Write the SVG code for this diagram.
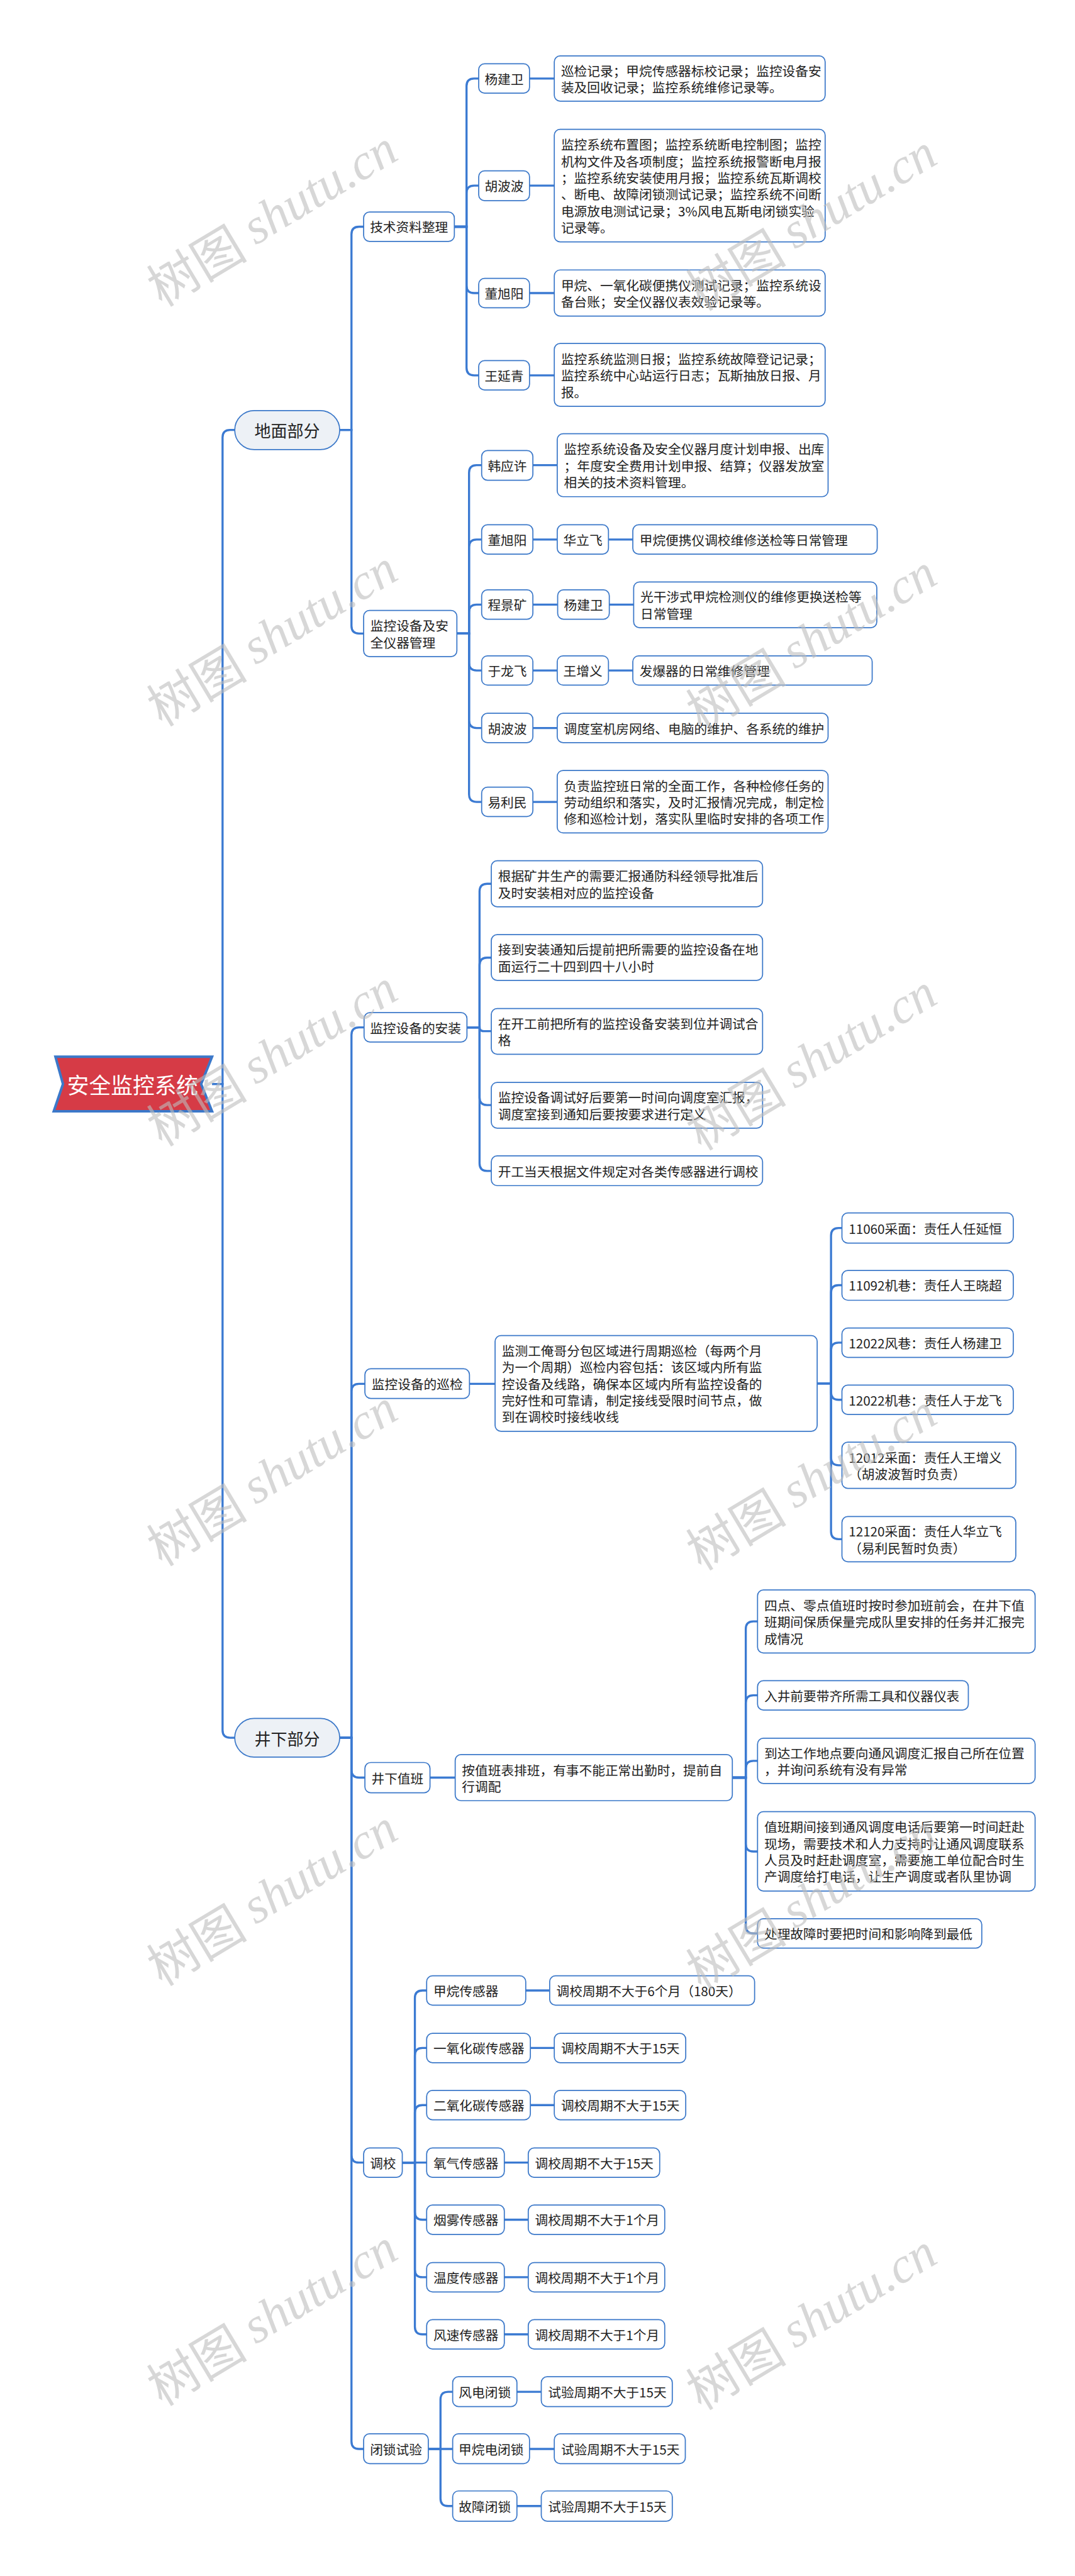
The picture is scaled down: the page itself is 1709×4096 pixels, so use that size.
<svg xmlns="http://www.w3.org/2000/svg" width="1709" height="4096" viewBox="0 0 1709 4096">
<style>
.bg{fill:#fff}
.n{fill:#fff;stroke:#3b78c9;stroke-width:2.6}
.l1{fill:#edf1f6;stroke:#3b78c9;stroke-width:2.6}
.t{font-family:"Noto Sans CJK SC","Microsoft YaHei",sans-serif;font-size:31px;fill:#222;dominant-baseline:central}
.c{text-anchor:middle}
.big{font-size:39px}
.e{fill:none;stroke:#3b7ad2;stroke-width:5}
.wm{font-family:"Noto Sans CJK SC",sans-serif;font-size:120px;fill:#bdbdbd;opacity:0.6;text-anchor:middle;dominant-baseline:central}
.wm tspan.s{font-family:"Liberation Serif",serif;font-style:italic}
</style>
<rect class="bg" width="1709" height="4096"/>
<g transform="scale(0.66758)">
<g id="connectors">
<path class="e" d="M505 2582H530V1042Q530 1024 548 1024H559"/>
<path class="e" d="M505 2582H530V4121Q530 4139 548 4139H559"/>
<path class="e" d="M809 1024H837V558Q837 540 855 540H866"/>
<path class="e" d="M809 1024H837V1491Q837 1509 855 1509H866"/>
<path class="e" d="M1082 540H1111V205Q1111 187 1129 187H1140"/>
<path class="e" d="M1082 540H1111V460Q1111 442 1129 442H1140"/>
<path class="e" d="M1082 540H1111V680Q1111 698 1129 698H1140"/>
<path class="e" d="M1082 540H1111V876Q1111 894 1129 894H1140"/>
<path class="e" d="M1261 187H1320M1261 442H1320M1261 698H1320M1261 894H1320"/>
<path class="e" d="M1088 1509H1117V1126Q1117 1108 1135 1108H1147"/>
<path class="e" d="M1088 1509H1117V1303Q1117 1285 1135 1285H1147"/>
<path class="e" d="M1088 1509H1117V1458Q1117 1440 1135 1440H1147"/>
<path class="e" d="M1088 1509H1117V1579Q1117 1597 1135 1597H1147"/>
<path class="e" d="M1088 1509H1117V1716Q1117 1734 1135 1734H1147"/>
<path class="e" d="M1088 1509H1117V1892Q1117 1910 1135 1910H1147"/>
<path class="e" d="M1269 1108H1327M1269 1285H1327M1449 1285H1507M1269 1440H1327M1449 1440H1509M1269 1597H1327M1449 1597H1507M1269 1734H1327M1269 1910H1327"/>
<path class="e" d="M809 4139H837V2465Q837 2447 855 2447H867"/>
<path class="e" d="M809 4139H837V3314Q837 3296 855 3296H869"/>
<path class="e" d="M809 4139H837V4216Q837 4234 855 4234H869"/>
<path class="e" d="M809 4139H837V5133Q837 5151 855 5151H866"/>
<path class="e" d="M809 4139H837V5815Q837 5833 855 5833H866"/>
<path class="e" d="M1112 2447H1142V2123Q1142 2105 1160 2105H1170"/>
<path class="e" d="M1112 2447H1142V2299Q1142 2281 1160 2281H1170"/>
<path class="e" d="M1112 2447H1142Q1142 2456 1152 2456H1170"/>
<path class="e" d="M1112 2447H1142V2614Q1142 2632 1160 2632H1170"/>
<path class="e" d="M1112 2447H1142V2771Q1142 2789 1160 2789H1170"/>
<path class="e" d="M1118 3296H1179"/>
<path class="e" d="M1946 3295H1979V2943Q1979 2925 1997 2925H2005"/>
<path class="e" d="M1946 3295H1979V3079Q1979 3061 1997 3061H2005"/>
<path class="e" d="M1946 3295H1979V3216Q1979 3198 1997 3198H2005"/>
<path class="e" d="M1946 3295H1979V3316Q1979 3334 1997 3334H2005"/>
<path class="e" d="M1946 3295H1979V3472Q1979 3490 1997 3490H2005"/>
<path class="e" d="M1946 3295H1979V3648Q1979 3666 1997 3666H2005"/>
<path class="e" d="M1024 4234H1084"/>
<path class="e" d="M1744 4234H1776V3880Q1776 3862 1794 3862H1804"/>
<path class="e" d="M1744 4234H1776V4056Q1776 4038 1794 4038H1804"/>
<path class="e" d="M1744 4234H1776V4212Q1776 4194 1794 4194H1804"/>
<path class="e" d="M1744 4234H1776V4392Q1776 4410 1794 4410H1804"/>
<path class="e" d="M1744 4234H1776V4587Q1776 4605 1794 4605H1804"/>
<path class="e" d="M958 5151H988V4759Q988 4741 1006 4741H1016"/>
<path class="e" d="M958 5151H988V4896Q988 4878 1006 4878H1016"/>
<path class="e" d="M958 5151H988V5032Q988 5014 1006 5014H1016"/>
<path class="e" d="M958 5151H1016"/>
<path class="e" d="M958 5151H988V5269Q988 5287 1006 5287H1016"/>
<path class="e" d="M958 5151H988V5406Q988 5424 1006 5424H1016"/>
<path class="e" d="M958 5151H988V5542Q988 5560 1006 5560H1016"/>
<path class="e" d="M1252 4741H1309M1263 4878H1320M1263 5014H1320M1201 5151H1258M1201 5287H1258M1201 5424H1258M1201 5560H1258"/>
<path class="e" d="M1020 5833H1049V5715Q1049 5697 1067 5697H1078"/>
<path class="e" d="M1020 5833H1078"/>
<path class="e" d="M1020 5833H1049V5951Q1049 5969 1067 5969H1078"/>
<path class="e" d="M1231 5697H1289M1261 5833H1320M1231 5969H1289"/>
</g>

<g id="root">
<polygon points="132,2517 505,2517 479,2582 505,2647 128,2647 150,2582" fill="#d63b46" stroke="#3b78c9" stroke-width="6"/>
<text class="t c" x="316" y="2582" style="font-size:52px;fill:#fff">安全监控系统</text>
</g>

<g id="n-dimian"><rect class="l1" x="559" y="978" width="250" height="93" rx="46.5"/><text class="t c big" x="684" y="1024">地面部分</text></g>
<g id="n-jingxia"><rect class="l1" x="559" y="4093" width="250" height="92" rx="46"/><text class="t c big" x="684" y="4139">井下部分</text></g>

<g id="n-jszl"><rect class="n" x="866" y="505" width="216" height="70" rx="14"/><text class="t c" x="974" y="540">技术资料整理</text></g>
<g id="n-jszl-1"><rect class="n" x="1140" y="152" width="121" height="70" rx="14"/><text class="t c" x="1200.5" y="187">杨建卫</text></g>
<g id="n-jszl-1c"><rect class="n" x="1320" y="133" width="645" height="108" rx="14"/><text class="t" x="1336" y="167.5">巡检记录；甲烷传感器标校记录；监控设备安</text><text class="t" x="1336" y="207">装及回收记录；监控系统维修记录等。</text></g>
<g id="n-jszl-2"><rect class="n" x="1140" y="407" width="121" height="71" rx="14"/><text class="t c" x="1200.5" y="442">胡波波</text></g>
<g id="n-jszl-2c"><rect class="n" x="1320" y="308" width="645" height="268" rx="14"/>
<text class="t" x="1336" y="343.5">监控系统布置图；监控系统断电控制图；监控</text>
<text class="t" x="1336" y="383">机构文件及各项制度；监控系统报警断电月报</text>
<text class="t" x="1336" y="422.5">；监控系统安装使用月报；监控系统瓦斯调校</text>
<text class="t" x="1336" y="462">、断电、故障闭锁测试记录；监控系统不间断</text>
<text class="t" x="1336" y="501.5">电源放电测试记录；3%风电瓦斯电闭锁实验</text>
<text class="t" x="1336" y="541">记录等。</text></g>
<g id="n-jszl-3"><rect class="n" x="1140" y="663" width="121" height="70" rx="14"/><text class="t c" x="1200.5" y="698">董旭阳</text></g>
<g id="n-jszl-3c"><rect class="n" x="1320" y="643" width="645" height="110" rx="14"/><text class="t" x="1336" y="678.5">甲烷、一氧化碳便携仪测试记录；监控系统设</text><text class="t" x="1336" y="718">备台账；安全仪器仪表效验记录等。</text></g>
<g id="n-jszl-4"><rect class="n" x="1140" y="859" width="121" height="70" rx="14"/><text class="t c" x="1200.5" y="894">王延青</text></g>
<g id="n-jszl-4c"><rect class="n" x="1320" y="818" width="645" height="150" rx="14"/>
<text class="t" x="1336" y="854">监控系统监测日报；监控系统故障登记记录；</text>
<text class="t" x="1336" y="893.5">监控系统中心站运行日志；瓦斯抽放日报、月</text>
<text class="t" x="1336" y="933">报。</text></g>

<g id="n-jkgl"><rect class="n" x="866" y="1454" width="222" height="110" rx="14"/><text class="t" x="882" y="1489.5">监控设备及安</text><text class="t" x="882" y="1529">全仪器管理</text></g>
<g id="n-jkgl-1"><rect class="n" x="1147" y="1073" width="122" height="71" rx="14"/><text class="t c" x="1208" y="1108">韩应许</text></g>
<g id="n-jkgl-1c"><rect class="n" x="1327" y="1033" width="645" height="150" rx="14"/>
<text class="t" x="1343" y="1068.5">监控系统设备及安全仪器月度计划申报、出库</text>
<text class="t" x="1343" y="1108">；年度安全费用计划申报、结算；仪器发放室</text>
<text class="t" x="1343" y="1147.5">相关的技术资料管理。</text></g>
<g id="n-jkgl-2"><rect class="n" x="1147" y="1250" width="122" height="70" rx="14"/><text class="t c" x="1208" y="1285">董旭阳</text></g>
<g id="n-jkgl-2a"><rect class="n" x="1327" y="1250" width="122" height="70" rx="14"/><text class="t c" x="1388" y="1285">华立飞</text></g>
<g id="n-jkgl-2c"><rect class="n" x="1507" y="1250" width="582" height="70" rx="14"/><text class="t" x="1523" y="1285">甲烷便携仪调校维修送检等日常管理</text></g>
<g id="n-jkgl-3"><rect class="n" x="1147" y="1405" width="122" height="70" rx="14"/><text class="t c" x="1208" y="1440">程景矿</text></g>
<g id="n-jkgl-3a"><rect class="n" x="1328" y="1405" width="123" height="70" rx="14"/><text class="t c" x="1389.5" y="1440">杨建卫</text></g>
<g id="n-jkgl-3c"><rect class="n" x="1509" y="1386" width="579" height="109" rx="14"/><text class="t" x="1525" y="1420.5">光干涉式甲烷检测仪的维修更换送检等</text><text class="t" x="1525" y="1460">日常管理</text></g>
<g id="n-jkgl-4"><rect class="n" x="1147" y="1562" width="122" height="70" rx="14"/><text class="t c" x="1208" y="1597">于龙飞</text></g>
<g id="n-jkgl-4a"><rect class="n" x="1327" y="1562" width="122" height="70" rx="14"/><text class="t c" x="1388" y="1597">王增义</text></g>
<g id="n-jkgl-4c"><rect class="n" x="1507" y="1562" width="570" height="70" rx="14"/><text class="t" x="1523" y="1597">发爆器的日常维修管理</text></g>
<g id="n-jkgl-5"><rect class="n" x="1147" y="1699" width="122" height="70" rx="14"/><text class="t c" x="1208" y="1734">胡波波</text></g>
<g id="n-jkgl-5c"><rect class="n" x="1327" y="1699" width="645" height="70" rx="14"/><text class="t" x="1343" y="1734">调度室机房网络、电脑的维护、各系统的维护</text></g>
<g id="n-jkgl-6"><rect class="n" x="1147" y="1875" width="122" height="70" rx="14"/><text class="t c" x="1208" y="1910">易利民</text></g>
<g id="n-jkgl-6c"><rect class="n" x="1327" y="1835" width="645" height="149" rx="14"/>
<text class="t" x="1343" y="1870.5">负责监控班日常的全面工作，各种检修任务的</text>
<text class="t" x="1343" y="1910">劳动组织和落实，及时汇报情况完成，制定检</text>
<text class="t" x="1343" y="1949.5">修和巡检计划，落实队里临时安排的各项工作</text></g>

<g id="n-az"><rect class="n" x="867" y="2412" width="245" height="70" rx="14"/><text class="t c" x="989.5" y="2447">监控设备的安装</text></g>
<g id="n-az-1"><rect class="n" x="1170" y="2050" width="646" height="110" rx="14"/><text class="t" x="1186" y="2085.5">根据矿井生产的需要汇报通防科经领导批准后</text><text class="t" x="1186" y="2125">及时安装相对应的监控设备</text></g>
<g id="n-az-2"><rect class="n" x="1170" y="2226" width="646" height="109" rx="14"/><text class="t" x="1186" y="2261">接到安装通知后提前把所需要的监控设备在地</text><text class="t" x="1186" y="2300.5">面运行二十四到四十八小时</text></g>
<g id="n-az-3"><rect class="n" x="1170" y="2402" width="646" height="109" rx="14"/><text class="t" x="1186" y="2437">在开工前把所有的监控设备安装到位并调试合</text><text class="t" x="1186" y="2476.5">格</text></g>
<g id="n-az-4"><rect class="n" x="1170" y="2578" width="646" height="109" rx="14"/><text class="t" x="1186" y="2613">监控设备调试好后要第一时间向调度室汇报，</text><text class="t" x="1186" y="2652.5">调度室接到通知后要按要求进行定义</text></g>
<g id="n-az-5"><rect class="n" x="1170" y="2753" width="646" height="71" rx="14"/><text class="t" x="1186" y="2789">开工当天根据文件规定对各类传感器进行调校</text></g>

<g id="n-xj"><rect class="n" x="869" y="3260" width="249" height="71" rx="14"/><text class="t c" x="993.5" y="3296">监控设备的巡检</text></g>
<g id="n-xj-c"><rect class="n" x="1179" y="3181" width="767" height="228" rx="14"/>
<text class="t" x="1195" y="3216">监测工俺哥分包区域进行周期巡检（每两个月</text>
<text class="t" x="1195" y="3255.5">为一个周期）巡检内容包括：该区域内所有监</text>
<text class="t" x="1195" y="3295">控设备及线路，确保本区域内所有监控设备的</text>
<text class="t" x="1195" y="3334.5">完好性和可靠请，制定接线受限时间节点，做</text>
<text class="t" x="1195" y="3374">到在调校时接线收线</text></g>
<g id="n-xj-1"><rect class="n" x="2005" y="2889" width="408" height="72" rx="14"/><text class="t" x="2021" y="2925">11060采面：责任人任延恒</text></g>
<g id="n-xj-2"><rect class="n" x="2005" y="3026" width="408" height="71" rx="14"/><text class="t" x="2021" y="3061">11092机巷：责任人王晓超</text></g>
<g id="n-xj-3"><rect class="n" x="2005" y="3163" width="408" height="70" rx="14"/><text class="t" x="2021" y="3198">12022风巷：责任人杨建卫</text></g>
<g id="n-xj-4"><rect class="n" x="2005" y="3299" width="408" height="70" rx="14"/><text class="t" x="2021" y="3334">12022机巷：责任人于龙飞</text></g>
<g id="n-xj-5"><rect class="n" x="2005" y="3435" width="414" height="110" rx="14"/><text class="t" x="2021" y="3470.5">12012采面：责任人王增义</text><text class="t" x="2021" y="3510">（胡波波暂时负责）</text></g>
<g id="n-xj-6"><rect class="n" x="2005" y="3612" width="414" height="108" rx="14"/><text class="t" x="2021" y="3646.5">12120采面：责任人华立飞</text><text class="t" x="2021" y="3686">（易利民暂时负责）</text></g>

<g id="n-zb"><rect class="n" x="869" y="4198" width="155" height="72" rx="14"/><text class="t c" x="946.5" y="4234">井下值班</text></g>
<g id="n-zb-c"><rect class="n" x="1084" y="4179" width="660" height="110" rx="14"/><text class="t" x="1100" y="4214.5">按值班表排班，有事不能正常出勤时，提前自</text><text class="t" x="1100" y="4254">行调配</text></g>
<g id="n-zb-1"><rect class="n" x="1804" y="3787" width="661" height="150" rx="14"/>
<text class="t" x="1820" y="3822.5">四点、零点值班时按时参加班前会，在井下值</text>
<text class="t" x="1820" y="3862">班期间保质保量完成队里安排的任务并汇报完</text>
<text class="t" x="1820" y="3901.5">成情况</text></g>
<g id="n-zb-2"><rect class="n" x="1804" y="4003" width="502" height="70" rx="14"/><text class="t" x="1820" y="4038">入井前要带齐所需工具和仪器仪表</text></g>
<g id="n-zb-3"><rect class="n" x="1804" y="4140" width="661" height="108" rx="14"/><text class="t" x="1820" y="4174.5">到达工作地点要向通风调度汇报自己所在位置</text><text class="t" x="1820" y="4214">，并询问系统有没有异常</text></g>
<g id="n-zb-4"><rect class="n" x="1804" y="4315" width="661" height="189" rx="14"/>
<text class="t" x="1820" y="4350.5">值班期间接到通风调度电话后要第一时间赶赴</text>
<text class="t" x="1820" y="4390">现场，需要技术和人力支持时让通风调度联系</text>
<text class="t" x="1820" y="4429.5">人员及时赶赴调度室，需要施工单位配合时生</text>
<text class="t" x="1820" y="4469">产调度给打电话，让生产调度或者队里协调</text></g>
<g id="n-zb-5"><rect class="n" x="1804" y="4570" width="534" height="70" rx="14"/><text class="t" x="1820" y="4605">处理故障时要把时间和影响降到最低</text></g>

<g id="n-tj"><rect class="n" x="866" y="5116" width="92" height="70" rx="14"/><text class="t c" x="912" y="5151">调校</text></g>
<g id="n-tj-1"><rect class="n" x="1016" y="4706" width="236" height="70" rx="14"/><text class="t" x="1032" y="4741">甲烷传感器</text></g>
<g id="n-tj-1v"><rect class="n" x="1309" y="4706" width="488" height="70" rx="14"/><text class="t" x="1325" y="4741">调校周期不大于6个月（180天）</text></g>
<g id="n-tj-2"><rect class="n" x="1016" y="4843" width="247" height="70" rx="14"/><text class="t" x="1032" y="4878">一氧化碳传感器</text></g>
<g id="n-tj-2v"><rect class="n" x="1320" y="4843" width="313" height="70" rx="14"/><text class="t" x="1336" y="4878">调校周期不大于15天</text></g>
<g id="n-tj-3"><rect class="n" x="1016" y="4979" width="247" height="70" rx="14"/><text class="t" x="1032" y="5014">二氧化碳传感器</text></g>
<g id="n-tj-3v"><rect class="n" x="1320" y="4979" width="313" height="70" rx="14"/><text class="t" x="1336" y="5014">调校周期不大于15天</text></g>
<g id="n-tj-4"><rect class="n" x="1016" y="5116" width="185" height="70" rx="14"/><text class="t" x="1032" y="5151">氧气传感器</text></g>
<g id="n-tj-4v"><rect class="n" x="1258" y="5116" width="313" height="70" rx="14"/><text class="t" x="1274" y="5151">调校周期不大于15天</text></g>
<g id="n-tj-5"><rect class="n" x="1016" y="5252" width="185" height="70" rx="14"/><text class="t" x="1032" y="5287">烟雾传感器</text></g>
<g id="n-tj-5v"><rect class="n" x="1258" y="5252" width="325" height="70" rx="14"/><text class="t" x="1274" y="5287">调校周期不大于1个月</text></g>
<g id="n-tj-6"><rect class="n" x="1016" y="5389" width="185" height="70" rx="14"/><text class="t" x="1032" y="5424">温度传感器</text></g>
<g id="n-tj-6v"><rect class="n" x="1258" y="5389" width="325" height="70" rx="14"/><text class="t" x="1274" y="5424">调校周期不大于1个月</text></g>
<g id="n-tj-7"><rect class="n" x="1016" y="5525" width="185" height="70" rx="14"/><text class="t" x="1032" y="5560">风速传感器</text></g>
<g id="n-tj-7v"><rect class="n" x="1258" y="5525" width="325" height="70" rx="14"/><text class="t" x="1274" y="5560">调校周期不大于1个月</text></g>

<g id="n-bs"><rect class="n" x="866" y="5797" width="154" height="71" rx="14"/><text class="t c" x="943" y="5833">闭锁试验</text></g>
<g id="n-bs-1"><rect class="n" x="1078" y="5661" width="153" height="71" rx="14"/><text class="t c" x="1154.5" y="5697">风电闭锁</text></g>
<g id="n-bs-1v"><rect class="n" x="1289" y="5661" width="312" height="71" rx="14"/><text class="t" x="1305" y="5697">试验周期不大于15天</text></g>
<g id="n-bs-2"><rect class="n" x="1078" y="5797" width="183" height="71" rx="14"/><text class="t c" x="1169.5" y="5833">甲烷电闭锁</text></g>
<g id="n-bs-2v"><rect class="n" x="1320" y="5797" width="312" height="71" rx="14"/><text class="t" x="1336" y="5833">试验周期不大于15天</text></g>
<g id="n-bs-3"><rect class="n" x="1078" y="5933" width="153" height="72" rx="14"/><text class="t c" x="1154.5" y="5969">故障闭锁</text></g>
<g id="n-bs-3v"><rect class="n" x="1289" y="5933" width="312" height="72" rx="14"/><text class="t" x="1305" y="5969">试验周期不大于15天</text></g>

<g id="watermarks">
<text class="wm" x="646" y="515" transform="rotate(-31 646 515)">树图 <tspan class="s">shutu.cn</tspan></text>
<text class="wm" x="1930" y="525" transform="rotate(-31 1930 525)">树图 <tspan class="s">shutu.cn</tspan></text>
<text class="wm" x="646" y="1515" transform="rotate(-31 646 1515)">树图 <tspan class="s">shutu.cn</tspan></text>
<text class="wm" x="1930" y="1525" transform="rotate(-31 1930 1525)">树图 <tspan class="s">shutu.cn</tspan></text>
<text class="wm" x="646" y="2515" transform="rotate(-31 646 2515)">树图 <tspan class="s">shutu.cn</tspan></text>
<text class="wm" x="1930" y="2525" transform="rotate(-31 1930 2525)">树图 <tspan class="s">shutu.cn</tspan></text>
<text class="wm" x="646" y="3515" transform="rotate(-31 646 3515)">树图 <tspan class="s">shutu.cn</tspan></text>
<text class="wm" x="1930" y="3525" transform="rotate(-31 1930 3525)">树图 <tspan class="s">shutu.cn</tspan></text>
<text class="wm" x="646" y="4515" transform="rotate(-31 646 4515)">树图 <tspan class="s">shutu.cn</tspan></text>
<text class="wm" x="1930" y="4525" transform="rotate(-31 1930 4525)">树图 <tspan class="s">shutu.cn</tspan></text>
<text class="wm" x="646" y="5515" transform="rotate(-31 646 5515)">树图 <tspan class="s">shutu.cn</tspan></text>
<text class="wm" x="1930" y="5525" transform="rotate(-31 1930 5525)">树图 <tspan class="s">shutu.cn</tspan></text>
</g>
</g>
</svg>
